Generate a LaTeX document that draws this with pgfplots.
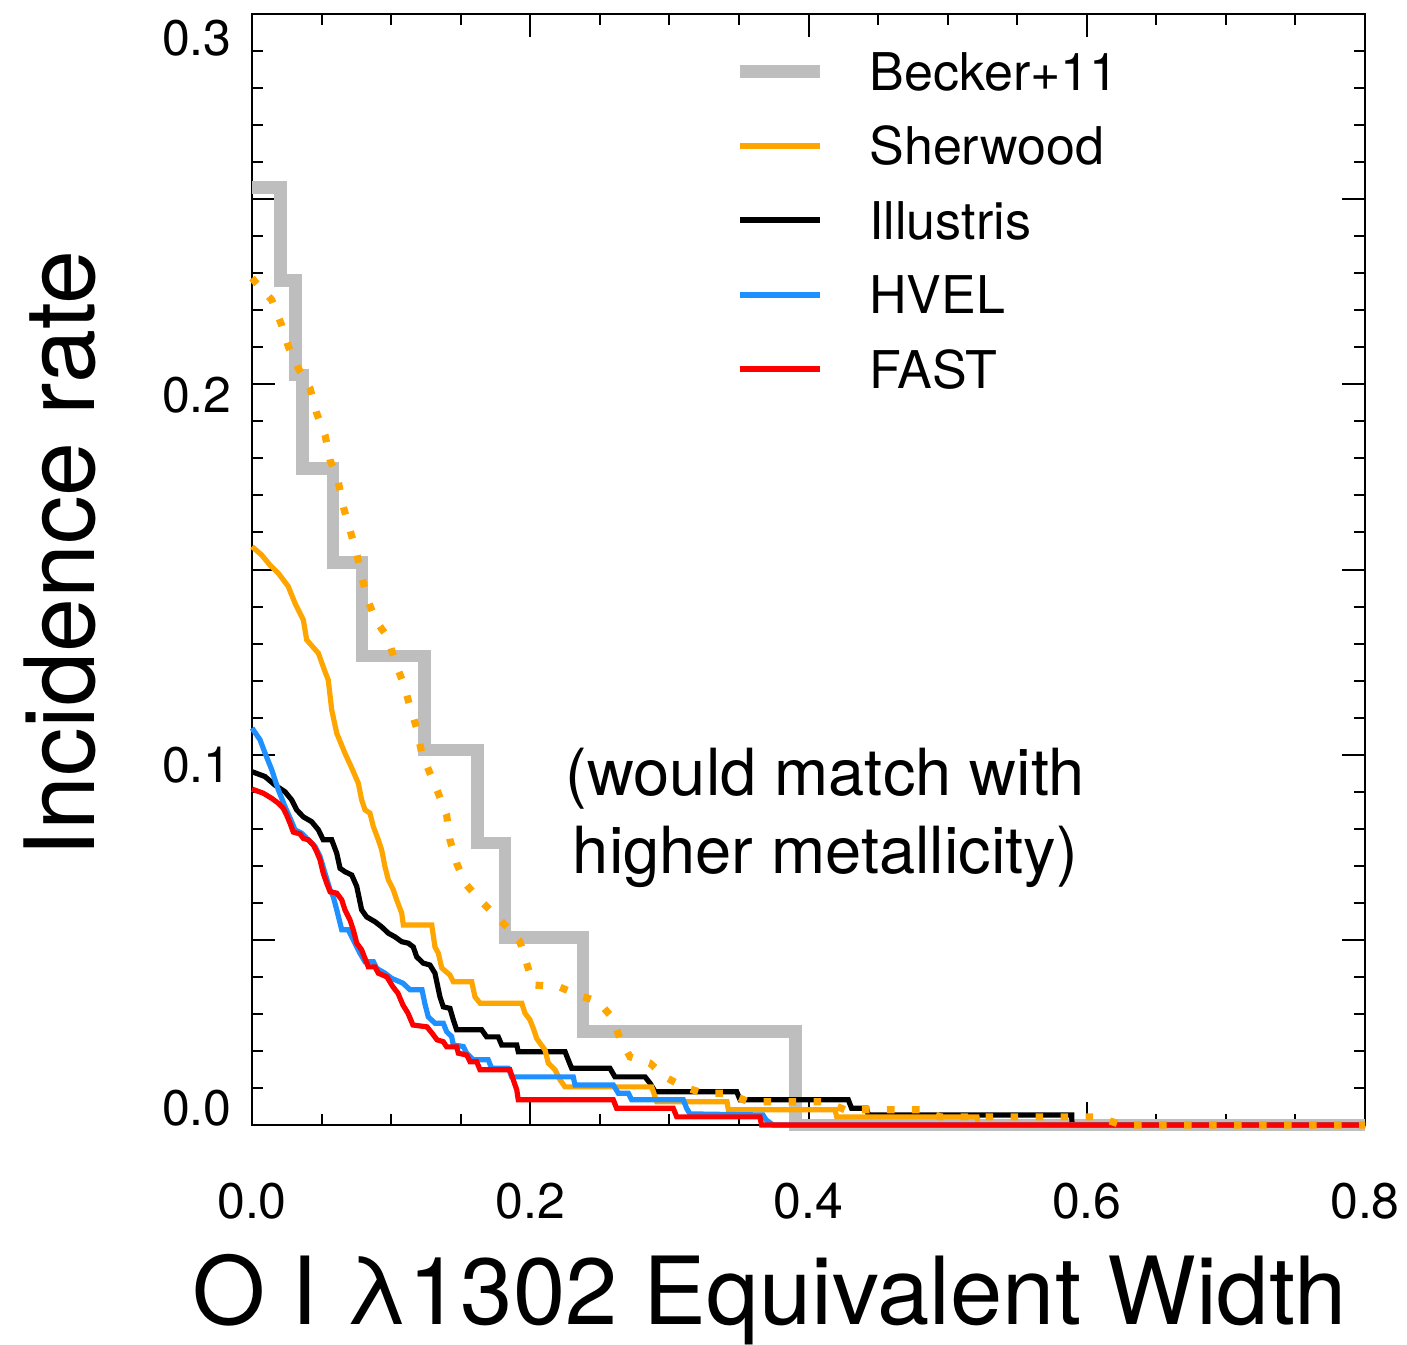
\documentclass[border=0pt]{standalone}
\usepackage{fontspec}
\setmainfont{TeX Gyre Heros}
\usepackage{pgfplots}
\pgfplotsset{compat=1.18}
\definecolor{beckergray}{RGB}{190,190,190}
\definecolor{sherorange}{RGB}{255,165,0}
\definecolor{hvelblue}{RGB}{30,144,255}
\definecolor{fastred}{RGB}{255,0,0}
\begin{document}
\begin{tikzpicture}
\begin{axis}[
  name=ax, at={(0,0)}, anchor=south west,
  scale only axis, width=556.5pt, height=555.5pt,
  xmin=0, xmax=0.8, ymin=0, ymax=0.3,
  clip=false,
  xtick={0,0.2,0.4,0.6,0.8},
  xticklabels={0.0,0.2,0.4,0.6,0.8},
  minor x tick num=3,
  ytick={0,0.05,0.1,0.15,0.2,0.25,0.3},
  yticklabels={\raisebox{8.5pt}[\height][\depth]{0.0},,\raisebox{-5pt}[\height][\depth]{0.1},,\raisebox{-5.5pt}[\height][\depth]{0.2},,\raisebox{-12pt}[\height][\depth]{0.3}},
  minor y tick num=4,
  major tick length=11.5pt, minor tick length=5.5pt,
  tick style={black, line width=1pt},
  axis line style={black, line width=1pt},
  tick label style={font=\fontsize{25}{30}\selectfont},
  xticklabel style={anchor=north, inner sep=0pt, yshift=-29pt},
  yticklabel style={anchor=east, inner sep=0pt, xshift=-10pt},
  xlabel={O I λ1302 Equivalent Width},
  xlabel style={font=\fontsize{47}{56}\selectfont, at={(axis description cs:0.4654,0)}, anchor=base, inner sep=0pt, yshift=-99.5pt},
  ylabel={Incidence rate},
  ylabel style={font=\fontsize{48.5}{56}\selectfont, at={(axis description cs:-0.1411,0.514)}, anchor=base, inner sep=0pt},
  legend style={at={(axis description cs:0.4322,0.9658)}, anchor=north west, draw=none, fill=none, inner sep=0pt,
    row sep=18.25pt, column sep=21.5pt,
    font=\fontsize{26}{31}\selectfont,
    nodes={inner sep=0pt, text height=19pt, text depth=0pt}},
  legend cell align=left,
  legend image code/.code={\draw[#1] (0pt,0pt) -- (40pt,0pt);},
]
\addlegendimage{beckergray, line width=6.5pt}
\addlegendentry{Becker+11}
\addlegendimage{sherorange, line width=3pt}
\addlegendentry{Sherwood}
\addlegendimage{black, line width=3pt}
\addlegendentry{Illustris}
\addlegendimage{hvelblue, line width=3pt}
\addlegendentry{HVEL}
\addlegendimage{fastred, line width=3pt}
\addlegendentry{FAST}

% Becker+11
\addplot[forget plot, beckergray, line width=6.3pt] coordinates {
(0,0.2532) (0.0203,0.2532) (0.0203,0.2280) (0.0313,0.2280) (0.0313,0.2025)
(0.0361,0.2025) (0.0361,0.1773) (0.0582,0.1773) (0.0582,0.1519) (0.0792,0.1519)
(0.0792,0.1266) (0.1240,0.1266) (0.1240,0.1013) (0.1621,0.1013) (0.1621,0.0761)
(0.1818,0.0761) (0.1818,0.0506) (0.2378,0.0506) (0.2378,0.0253) (0.3907,0.0253)
(0.3907,0) (0.8,0)};

% Illustris
\addplot[forget plot, black, line width=2.6pt] coordinates {
(0,0.0954) (0.0093,0.0941) (0.0165,0.0918) (0.0237,0.0900) (0.0285,0.0878)
(0.0321,0.0851) (0.0369,0.0832) (0.0429,0.0819) (0.0477,0.0797) (0.0512,0.0770)
(0.0573,0.0770) (0.0609,0.0734) (0.0633,0.0693) (0.0668,0.0684) (0.0717,0.0675)
(0.0753,0.0644) (0.0788,0.0581) (0.0824,0.0562) (0.0884,0.0549) (0.0932,0.0535)
(0.0980,0.0518) (0.1028,0.0508) (0.1076,0.0495) (0.1123,0.0491) (0.1159,0.0481)
(0.1184,0.0454) (0.1231,0.0437) (0.1279,0.0432) (0.1315,0.0410) (0.1351,0.0346)
(0.1375,0.0319) (0.1423,0.0315) (0.1447,0.0284) (0.1471,0.0257) (0.1651,0.0257)
(0.1687,0.0238) (0.1770,0.0238) (0.1795,0.0216) (0.1903,0.0216) (0.1914,0.0198)
(0.2250,0.0198) (0.2273,0.0176) (0.2298,0.0153) (0.2573,0.0153) (0.2609,0.0130)
(0.2825,0.0130) (0.2861,0.0113) (0.2897,0.0090) (0.3484,0.0090) (0.3508,0.0068)
(0.4286,0.0068) (0.4310,0.0045) (0.4418,0.0045) (0.4430,0.0027) (0.5892,0.0027)
(0.5894,0) (0.8,0)};

% Sherwood solid
\addplot[forget plot, sherorange, line width=2.6pt] coordinates {
(0,0.1562) (0.0070,0.1539) (0.0129,0.1512) (0.0189,0.1490) (0.0261,0.1454)
(0.0309,0.1409) (0.0369,0.1364) (0.0393,0.1310) (0.0477,0.1274) (0.0525,0.1224)
(0.0548,0.1202) (0.0573,0.1121) (0.0609,0.1058) (0.0668,0.1004) (0.0717,0.0964)
(0.0764,0.0923) (0.0788,0.0878) (0.0812,0.0851) (0.0848,0.0842) (0.0872,0.0806)
(0.0908,0.0770) (0.0932,0.0743) (0.0956,0.0697) (0.0980,0.0662) (0.1016,0.0635)
(0.1040,0.0608) (0.1076,0.0572) (0.1088,0.0540) (0.1292,0.0540) (0.1315,0.0481)
(0.1339,0.0464) (0.1364,0.0424) (0.1423,0.0405) (0.1447,0.0387) (0.1579,0.0387)
(0.1603,0.0346) (0.1639,0.0329) (0.1939,0.0329) (0.1962,0.0302) (0.1998,0.0284)
(0.2022,0.0261) (0.2046,0.0234) (0.2070,0.0221) (0.2106,0.0203) (0.2130,0.0167)
(0.2178,0.0149) (0.2214,0.0122) (0.2250,0.0103) (0.2873,0.0103) (0.2909,0.0063)
(0.3414,0.0063) (0.3424,0.0041) (0.4190,0.0041) (0.4203,0.0022) (0.5211,0.0022)
(0.5218,0) (0.8,0)};

% HVEL
\addplot[forget plot, hvelblue, line width=2.6pt] coordinates {
(0,0.1072) (0.0009,0.1067) (0.0058,0.1040) (0.0093,0.1005) (0.0142,0.0959)
(0.0189,0.0905) (0.0237,0.0860) (0.0285,0.0819) (0.0309,0.0797) (0.0357,0.0788)
(0.0393,0.0774) (0.0453,0.0752) (0.0489,0.0725) (0.0525,0.0680) (0.0561,0.0635)
(0.0584,0.0617) (0.0609,0.0581) (0.0633,0.0545) (0.0645,0.0527) (0.0692,0.0527)
(0.0717,0.0508) (0.0740,0.0491) (0.0776,0.0464) (0.0812,0.0441) (0.0872,0.0441)
(0.0896,0.0423) (0.0956,0.0410) (0.1004,0.0396) (0.1085,0.0383) (0.1136,0.0365)
(0.1222,0.0365) (0.1243,0.0327) (0.1267,0.0292) (0.1315,0.0275) (0.1375,0.0275)
(0.1399,0.0252) (0.1435,0.0239) (0.1447,0.0216) (0.1519,0.0212) (0.1543,0.0194)
(0.1591,0.0176) (0.1698,0.0176) (0.1723,0.0153) (0.1842,0.0153) (0.1867,0.0130)
(0.2309,0.0130) (0.2322,0.0108) (0.2597,0.0108) (0.2633,0.0086) (0.2705,0.0086)
(0.2729,0.0068) (0.3100,0.0068) (0.3124,0.0045) (0.3148,0.0030) (0.3673,0.0027)
(0.3695,0.0014) (0.3745,0) (0.8,0)};

% FAST
\addplot[forget plot, fastred, line width=2.6pt] coordinates {
(0,0.0907) (0.0081,0.0896) (0.0142,0.0882) (0.0189,0.0869) (0.0225,0.0855)
(0.0249,0.0837) (0.0273,0.0815) (0.0297,0.0791) (0.0345,0.0786) (0.0369,0.0774)
(0.0405,0.0770) (0.0441,0.0756) (0.0465,0.0738) (0.0489,0.0716) (0.0512,0.0680)
(0.0537,0.0653) (0.0561,0.0630) (0.0609,0.0626) (0.0645,0.0608) (0.0668,0.0581)
(0.0704,0.0554) (0.0728,0.0527) (0.0753,0.0491) (0.0788,0.0473) (0.0812,0.0450)
(0.0836,0.0427) (0.0884,0.0427) (0.0908,0.0410) (0.0970,0.0400) (0.1013,0.0373)
(0.1049,0.0356) (0.1085,0.0324) (0.1121,0.0302) (0.1157,0.0270) (0.1258,0.0265)
(0.1294,0.0248) (0.1330,0.0230) (0.1375,0.0225) (0.1399,0.0211) (0.1471,0.0211)
(0.1483,0.0194) (0.1543,0.0189) (0.1567,0.0171) (0.1615,0.0171) (0.1639,0.0149)
(0.1854,0.0149) (0.1878,0.0122) (0.1903,0.0095) (0.1914,0.0068) (0.2597,0.0068)
(0.2621,0.0045) (0.3028,0.0045) (0.3053,0.0022) (0.3651,0.0022) (0.3663,0)
(0.8,0)};

% Sherwood dotted (higher metallicity)
\addplot[forget plot, sherorange, line width=3.6pt, dash pattern=on 3.8pt off 8.7pt] coordinates {
(0,0.2287) (0.0022,0.2277) (0.0142,0.2228) (0.0213,0.2160) (0.0261,0.2102)
(0.0333,0.2043) (0.0417,0.1989) (0.0465,0.1922) (0.0525,0.1863) (0.0561,0.1796)
(0.0620,0.1737) (0.0656,0.1670) (0.0704,0.1607) (0.0753,0.1544) (0.0788,0.1481)
(0.0836,0.1413) (0.0896,0.1359) (0.0980,0.1314) (0.1028,0.1251) (0.1088,0.1193)
(0.1136,0.1130) (0.1184,0.1071) (0.1220,0.1004) (0.1279,0.0950) (0.1339,0.0896)
(0.1399,0.0837) (0.1423,0.0770) (0.1471,0.0707) (0.1531,0.0653) (0.1627,0.0612)
(0.1723,0.0576) (0.1831,0.0535) (0.1926,0.0495) (0.1974,0.0437) (0.2022,0.0378)
(0.2202,0.0374) (0.2345,0.0351) (0.2489,0.0333) (0.2585,0.0292) (0.2645,0.0234)
(0.2717,0.0184) (0.2861,0.0167) (0.2969,0.0130) (0.3100,0.0103) (0.3244,0.0086)
(0.3424,0.0086) (0.3567,0.0063) (0.4119,0.0063) (0.4263,0.0041) (0.4825,0.0041)
(0.4945,0.0022) (0.6081,0.0022) (0.6251,0) (0.8,0)};

\node[anchor=base, inner sep=0pt, font=\fontsize{32.5}{38}\selectfont] at (axis cs:0.4122,0.0891) {(would match with};
\node[anchor=base, inner sep=0pt, font=\fontsize{32.5}{38}\selectfont] at (axis cs:0.4122,0.0680) {higher metallicity)};
\end{axis}
\pgfresetboundingbox
\path[use as bounding box] (-126pt,-109.5pt) rectangle (577.5pt,562.5pt);
\end{tikzpicture}
\end{document}
